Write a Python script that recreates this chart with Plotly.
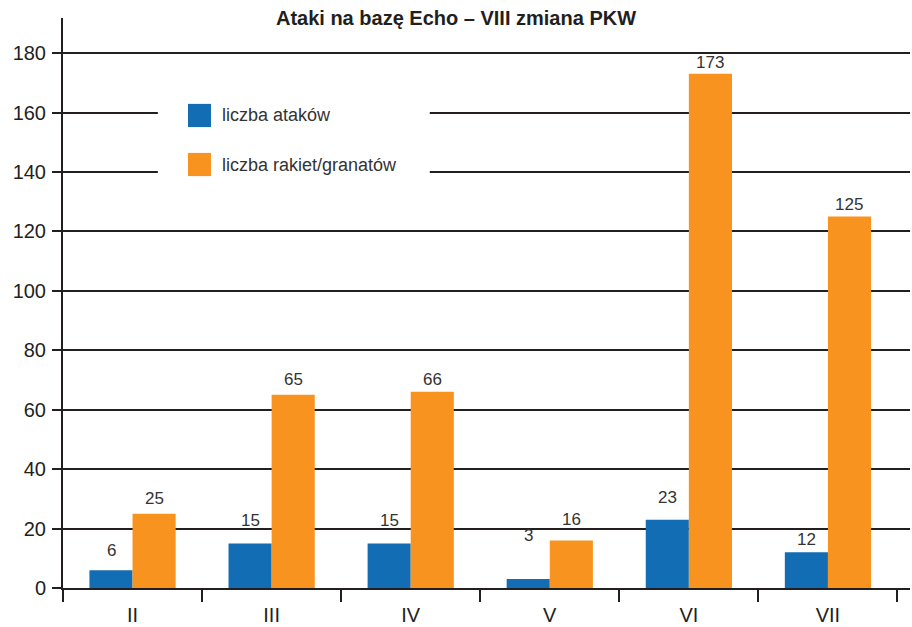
import plotly.graph_objects as go

# Months of the rotation and counts per month
months = ["II", "III", "IV", "V", "VI", "VII"]
attacks = [6, 15, 15, 3, 23, 12]
rockets = [25, 65, 66, 16, 173, 125]
y_ticks = [0, 20, 40, 60, 80, 100, 120, 140, 160, 180]

# how far (px) each value label sits above its bar, kept clear of grid lines
attack_label_lift = [20, 23, 23, 44, 22, 13]
rocket_label_lift = [15, 15, 12, 21, 11, 12]

series_names = ["liczba ataków", "liczba rakiet/granatów"]
colors = ["#136db5", "#f7931e"]
ink = "#231f20"
sans = "Liberation Sans, Arial, Helvetica, sans-serif"

fig = go.Figure()
for name, vals, col in zip(series_names, [attacks, rockets], colors):
    fig.add_trace(go.Bar(x=months, y=vals, name=name, marker_color=col,
                         marker_line_width=0, showlegend=False))

# value labels above each bar
half = 21.5
for vals, lifts, shift in [(attacks, attack_label_lift, -half),
                           (rockets, rocket_label_lift, half)]:
    for m, v, lift in zip(months, vals, lifts):
        fig.add_annotation(x=m, y=v, text=str(v), showarrow=False, xshift=shift,
                           yanchor="middle", yshift=lift,
                           font=dict(family=sans, size=17, color="#333333"))

# legend panel drawn over the grid
fig.add_shape(type="rect", xref="paper", yref="y", x0=0.112, x1=0.433, y0=132, y1=172,
              fillcolor="white", line_width=0, layer="above")
legend_rows = [(159.0, 155.1, 162.9), (142.5, 138.6, 146.4)]
for (yc, y0, y1), name, col in zip(legend_rows, series_names, colors):
    fig.add_shape(type="rect", xref="paper", yref="y", x0=0.1476, x1=0.1747,
                  y0=y0, y1=y1, fillcolor=col, line_width=0, layer="above")
    fig.add_annotation(xref="paper", yref="y", x=0.1854, y=yc, text=name,
                       showarrow=False, xanchor="left", yanchor="middle",
                       font=dict(family=sans, size=18, color="#333333"))

# y axis line continues slightly below zero
fig.add_shape(type="line", xref="paper", yref="paper", x0=0, x1=0,
              ysizemode="pixel", yanchor=0, y0=0, y1=-12,
              line=dict(color=ink, width=2))

fig.update_layout(
    width=912, height=627,
    margin=dict(l=63, r=2, t=18, b=39),
    paper_bgcolor="white", plot_bgcolor="white",
    barmode="group", bargap=0.38, bargroupgap=0,
    title=dict(text="<b>Ataki na bazę Echo – VIII zmiana PKW</b>",
               x=0.5, xanchor="center", y=0.972, yanchor="middle",
               font=dict(family="Liberation Sans Narrow, Arial Narrow, sans-serif",
                         size=20, color=ink)),
    xaxis=dict(range=[-0.5, 5.59], tickson="boundaries", ticks="outside",
               ticklen=12, tickwidth=2, tickcolor=ink, showline=True,
               linecolor=ink, linewidth=2, showgrid=False, ticklabelstandoff=8,
               tickfont=dict(family=sans, size=20, color=ink)),
    yaxis=dict(range=[0, 191.8], tickvals=y_ticks, ticks="outside", ticklen=9,
               tickwidth=2, tickcolor=ink, showline=True, linecolor=ink,
               linewidth=2, showgrid=True, gridcolor=ink, gridwidth=2,
               zeroline=False, ticklabelstandoff=2,
               tickfont=dict(family=sans, size=20, color=ink)),
)

fig.write_html("out.html")
